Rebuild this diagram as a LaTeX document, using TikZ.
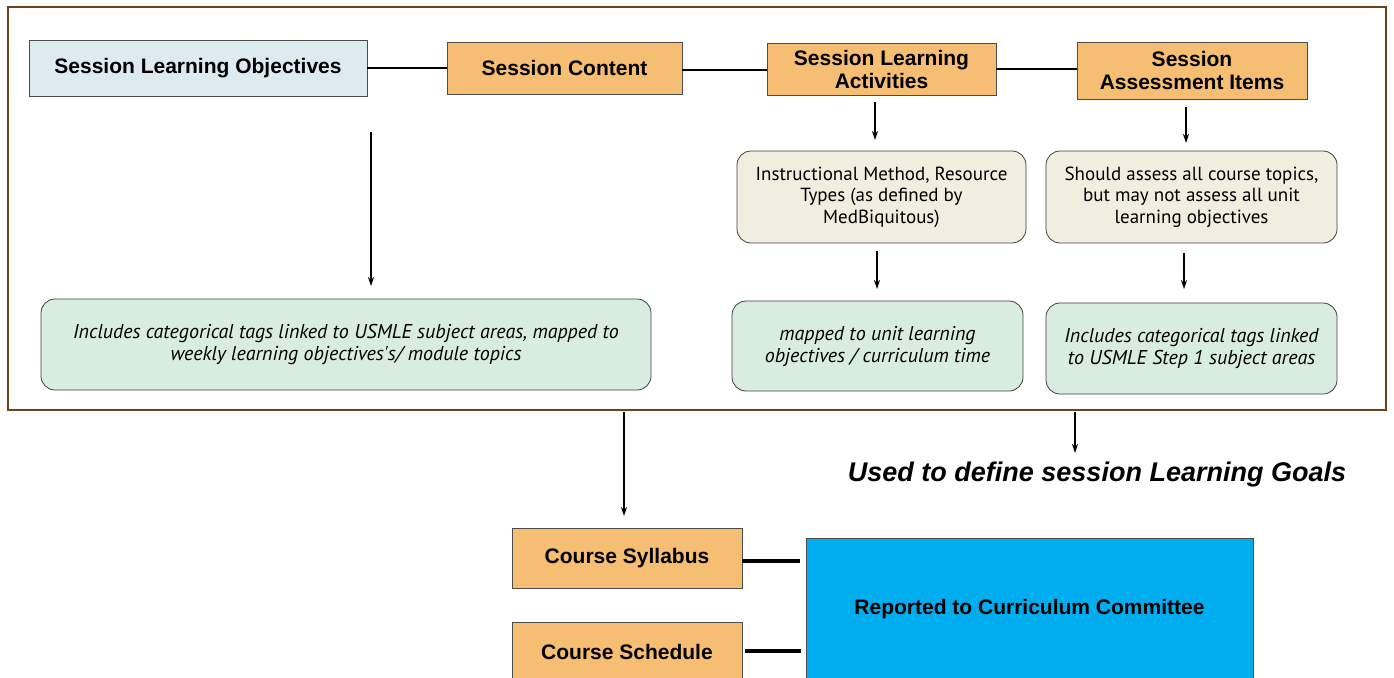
\documentclass[tikz,border=0pt]{standalone}
\usepackage{fontspec}
\setmainfont{Liberation Sans}
\newfontfamily\softfont{PT Sans}
\usetikzlibrary{arrows.meta}
\definecolor{framebrown}{HTML}{684518}
\definecolor{lblue}{HTML}{DDEBF1}
\definecolor{orangebox}{HTML}{F5BE72}
\definecolor{beige}{HTML}{F1EDDF}
\definecolor{mint}{HTML}{D9ECE0}
\definecolor{cyanbox}{HTML}{00AEEF}
\tikzset{
  headbox/.style={draw=black!70, line width=0.8pt, font=\bfseries\fontsize{21}{23}\selectfont, align=center, inner sep=0pt},
  softbox/.style={draw=black!75, line width=0.8pt, rounded corners=14pt, align=center, inner sep=0pt, font=\softfont\fontsize{19}{21.5}\selectfont},
  softit/.style={softbox, font=\softfont\itshape\fontsize{20}{22}\selectfont},
  arr/.style={-{Stealth[length=9pt,width=6pt]}, line width=1.4pt},
  link/.style={line width=1.2pt},
  thick link/.style={line width=3.5pt}
}
\begin{document}
\begin{tikzpicture}[x=1pt,y=-1pt]
\useasboundingbox (0,0) rectangle (1394,677);
\fill[white] (0,0) rectangle (1394,677);
% frame
\draw[framebrown, line width=2.8pt] (8,7) rectangle (1386,410);
% top row
\node[headbox, fill=lblue, minimum width=338pt, minimum height=56pt] (slo) at (198,68) {Session Learning Objectives};
\node[headbox, fill=orangebox, minimum width=235pt, minimum height=52pt] (sc) at (564.5,68) {Session Content};
\node[headbox, fill=orangebox, minimum width=229pt, minimum height=52pt] (sla) at (881.5,69) {Session Learning\\Activities};
\node[headbox, fill=orangebox, minimum width=230pt, minimum height=57pt] (sai) at (1192,70.5) {Session\\Assessment Items};
\draw[link] (slo.east) -- (sc.west);
\draw[link] (sc.east |- 0,70) -- (sla.west |- 0,70);
\draw[link] (sla.east) -- (sai.west |- sla.east);
% second row
\node[softbox, fill=beige, minimum width=289pt, minimum height=92pt] (im) at (881.5,197) {Instructional Method, Resource\\Types (as defined by\\MedBiquitous)};
\node[softbox, fill=beige, minimum width=291pt, minimum height=92pt] (sa) at (1191.5,197) {Should assess all course topics,\\but may not assess all unit\\learning objectives};
% third row
\node[softit, fill=mint, minimum width=610pt, minimum height=91pt] (g1) at (346,344.5) {Includes categorical tags linked to USMLE subject areas, mapped to\\weekly learning objectives's/ module topics};
\node[softit, fill=mint, minimum width=291pt, minimum height=90pt] (g2) at (877.5,346) {mapped to unit learning\\objectives / curriculum time};
\node[softit, fill=mint, minimum width=291pt, minimum height=91pt] (g3) at (1191.5,348.5) {Includes categorical tags linked\\to USMLE Step 1 subject areas};
% arrows inside
\coordinate (a1s) at (371,132);
\coordinate (a1e) at (371,286);
\draw[arr] (a1s) -- (a1e);
\coordinate (a2s) at (875,102);
\coordinate (a2e) at (875,140);
\draw[arr] (a2s) -- (a2e);
\coordinate (a3s) at (1186,107);
\coordinate (a3e) at (1186,143);
\draw[arr] (a3s) -- (a3e);
\coordinate (a4s) at (877,251);
\coordinate (a4e) at (877,289);
\draw[arr] (a4s) -- (a4e);
\coordinate (a5s) at (1184,253);
\coordinate (a5e) at (1184,289);
\draw[arr] (a5s) -- (a5e);
% below frame
\node[font=\bfseries\itshape\fontsize{27}{30}\selectfont, inner sep=0pt] (goals) at (1097,475) {Used to define session Learning Goals};
\node[headbox, fill=orangebox, minimum width=230pt, minimum height=60pt] (cs) at (627,558) {Course Syllabus};
\node[headbox, fill=orangebox, minimum width=230pt, minimum height=60pt, anchor=north] (csch) at (627,622) {Course Schedule};
\node[headbox, fill=cyanbox, minimum width=447pt, minimum height=160pt, anchor=north] (rep) at (1029.5,538) {};
\node[font=\bfseries\fontsize{21}{23}\selectfont] (reptxt) at (1029.5,609) {Reported to Curriculum Committee};
\coordinate (b1s) at (624,412);
\coordinate (b1e) at (624,516);
\draw[arr] (b1s) -- (b1e);
\coordinate (b2s) at (1075,412);
\coordinate (b2e) at (1075,453);
\draw[arr] (b2s) -- (b2e);
\coordinate (l1) at (800,561);
\coordinate (l2) at (801,651);
\draw[thick link] (cs.east |- l1) -- (l1);
\draw[thick link] (csch.east |- l2) ++(3,0) -- (l2);
\end{tikzpicture}
\end{document}
